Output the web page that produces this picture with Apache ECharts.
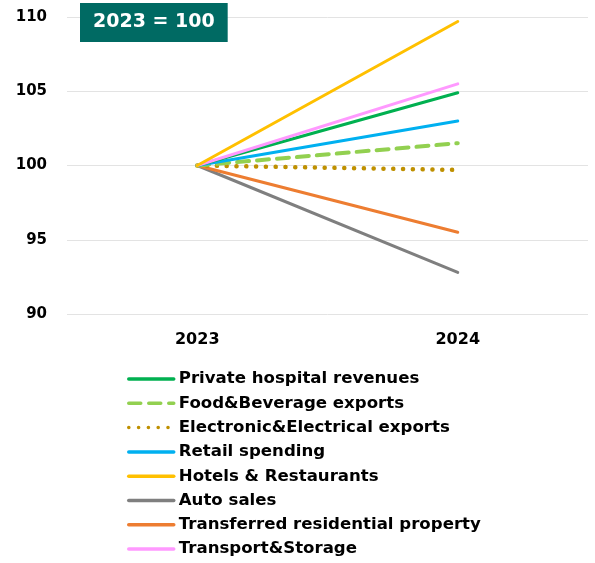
<!DOCTYPE html>
<html><head><meta charset="utf-8">
<script src="https://cdn.jsdelivr.net/npm/echarts@6/dist/echarts.min.js"></script>
<style>html,body{margin:0;padding:0;background:#fff}#c{width:595px;height:563px}</style>
</head><body><div id="c"></div>
<script>
const categories = ['2023', '2024'];
const privateHospital = [100, 104.9];
const foodBeverage = [100, 101.5];
const electronic = [100, 99.7];
const retail = [100, 103.0];
const hotels = [100, 109.7];
const autoSales = [100, 92.8];
const residential = [100, 95.5];
const transport = [100, 105.5];
const yTicks = [90, 95, 100, 105, 110];

const FONT = 'DejaVu Sans';
function s(name, data, color, type, width, extra) {
  return Object.assign({
    name, type: 'line', data, symbol: 'none', smooth: false,
    lineStyle: { color, width, type, cap: 'round' }, itemStyle: { color },
    emphasis: { disabled: true }
  }, extra || {});
}
const chart = echarts.init(document.getElementById('c'), null, { renderer: 'canvas' });
chart.setOption({
  animation: false,
  title: {
    text: '2023 = 100', left: 80, top: 3,
    padding: [8, 13, 8, 13], backgroundColor: '#006a63',
    textStyle: { color: '#fff', fontFamily: FONT, fontWeight: 'bold', fontSize: 19, lineHeight: 23 }
  },
  grid: { left: 67, right: 7, top: 17, bottom: 249 },
  xAxis: {
    type: 'category', data: categories, boundaryGap: true,
    axisLine: { show: false }, axisTick: { show: false },
    axisLabel: { color: '#000', fontFamily: FONT, fontWeight: 'bold', fontSize: 16, margin: 18 }
  },
  yAxis: {
    type: 'value', min: yTicks[0], max: yTicks[yTicks.length - 1], interval: 5,
    axisLine: { show: false }, axisTick: { show: false },
    axisLabel: { color: '#000', fontFamily: FONT, fontWeight: 'bold', fontSize: 15, margin: 20 },
    splitLine: { lineStyle: { color: '#e3e3e3', width: 1 } }
  },
  legend: {
    orient: 'vertical', left: 127, top: 369, height: 200, padding: 0,
    itemWidth: 45, itemHeight: 14, itemGap: 4.3,
    itemStyle: { opacity: 0 },
    lineStyle: { width: 3.5 },
    textStyle: { color: '#000', fontFamily: FONT, fontWeight: 'bold', fontSize: 16.6, lineHeight: 20 },
    data: ['Private hospital revenues', 'Food&Beverage exports', 'Electronic&Electrical exports',
      'Retail spending', 'Hotels & Restaurants', 'Auto sales', 'Transferred residential property', 'Transport&Storage']
  },
  series: [
    s('Auto sales', autoSales, '#7f7f7f', 'solid', 3),
    s('Transferred residential property', residential, '#ed7d31', 'solid', 3),
    s('Electronic&Electrical exports', electronic, '#bf9000', [0.1, 9.7], 4.5),
    s('Food&Beverage exports', foodBeverage, '#92d050', [12, 8], 4),
    s('Retail spending', retail, '#00b0f0', 'solid', 3),
    s('Private hospital revenues', privateHospital, '#00b050', 'solid', 3),
    s('Transport&Storage', transport, '#ff99ff', 'solid', 3),
    s('Hotels & Restaurants', hotels, '#ffc000', 'solid', 3)
  ]
});
</script></body></html>
